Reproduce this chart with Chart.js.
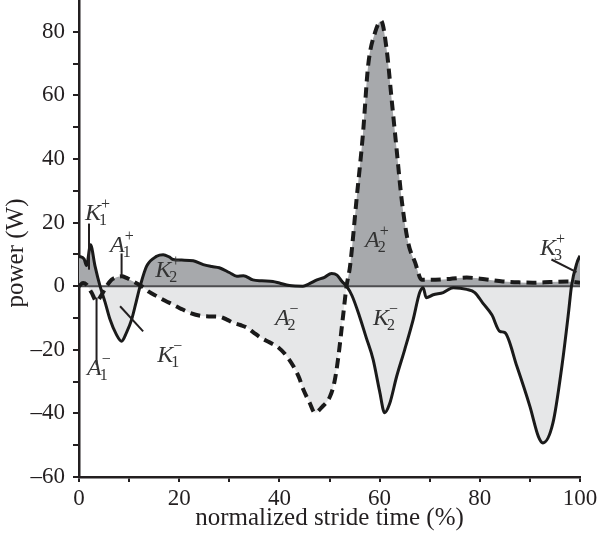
<!DOCTYPE html>
<html>
<head>
<meta charset="utf-8">
<script src="https://cdn.jsdelivr.net/npm/chart.js@4"></script>
<style>
body { margin: 0; background: #fff; }
</style>
</head>
<body>
<canvas id="chart" width="601" height="536"></canvas>
<script>
// knee power (solid line)
const kneeX = [0, 1.0, 1.5, 2.3, 3.2, 4.2, 5.2, 6.2, 7.4, 8.5, 9.5, 10.5, 11.4, 12.2, 13.5, 15.5, 16.8, 18.0, 18.8, 20.5,
  22.8, 24.8, 26.5, 28.0, 30.0, 31.5, 32.8, 34.7, 36.5, 38.7, 40.0, 42.0, 44.7, 46.0, 47.5, 49.0, 50.4, 51.5, 52.5, 53.4,
  54.5, 56.0, 57.3, 58.7, 60.0, 61.0, 62.0, 63.4, 65.0, 66.7, 68.0, 68.7, 69.3, 70.7, 72.7, 74.7, 77.4, 79.0, 80.6, 82.4,
  84.0, 85.0, 87.4, 90.0, 91.7, 92.6, 94.6, 96.4, 97.7, 98.3, 99.4, 100];
const kneePower = [9.4, 8.6, 6.5, 13, 6.3, 0, -5, -10.5, -15, -17.3, -14.5, -10.5, -5, 0, 6.3, 9.4, 9.9, 9.2, 8.4, 8.2,
  8.0, 6.8, 6.2, 5.8, 4.3, 3.1, 3.3, 2.0, 1.7, 1.5, 1.0, 0.2, 0, 0.8, 2.0, 2.8, 4.0, 3.5, 1.5, 0,
  -3, -9.5, -16, -23, -33, -39.8, -37, -28.4, -20, -10.5, -2, -0.5, -3.6, -2.7, -2, -0.5, -1, -2, -5.3, -9,
  -14.2, -14.6, -25.2, -37.8, -47.3, -49.3, -43, -25, -8.4, 0, 7.4, 9.6];

// ankle power (dashed line)
const ankleX = [0, 0.8, 1.5, 2.5, 3.5, 4.5, 5.5, 6.5, 7.5, 8.5, 9.5, 10.8, 12.5, 14.0, 15.6, 17.2, 18.8, 20.5, 22.2, 24.2,
  26.0, 28.1, 29.5, 30.8, 32.2, 33.5, 34.8, 36.1, 37.8, 39.5, 41.2, 42.8, 44.0, 44.8, 46.0, 47.1, 48.5, 50.1, 51.0, 51.7,
  52.7, 53.4, 54.1, 55.4, 56.7, 57.7, 59.1, 60.3, 61.4, 62.4, 63.4, 64.4, 65.7, 67.1, 68.4, 70.0, 74.0, 77.4, 81.0, 84.6,
  88.0, 90.6, 94.0, 97.4, 100];
const anklePower = [0, 1, 0.5, -2, -4.7, -2.7, 0, 2, 2.8, 3.1, 2.6, 1.5, 0, -1.8, -3.2, -4.6, -5.8, -7.2, -8.4, -9.3,
  -9.5, -9.6, -10.5, -11.5, -12.2, -13, -14.5, -16, -17.5, -18.9, -21.5, -25.2, -29, -32.6, -36.5, -39.8, -38, -34.7, -30, -23,
  -9.5, 0, 6.3, 27.3, 48.3, 69.2, 79.8, 83.4, 74.5, 58.8, 43, 27.3, 13.7, 7.4, 2, 2, 2.3, 2.7, 2.2, 1.5,
  1.2, 1.1, 1.3, 1.5, 1.1];

const xLabelTicks = [0, 20, 40, 60, 80, 100];
const yLabelTicks = [-60, -40, -20, 0, 20, 40, 60, 80];

// phase names: letter, superscript, subscript
const phaseLetter = ['K', 'A', 'K', 'A', 'K', 'A', 'A', 'K', 'K'];
const phaseSup = ['+', '+', '+', '\u2212', '\u2212', '\u2212', '+', '\u2212', '+'];
const phaseSub = ['1', '1', '2', '1', '1', '2', '2', '2', '3'];

// where each phase name sits, in axis units (left edge, baseline)
const phasePos = [[1.2, 20.7], [6.2, 10.6], [15.2, 3.0], [1.6, -27.8], [15.6, -23.7],
  [39.1, -12.1], [57.1, 12.2], [58.7, -12.1], [92.0, 9.9]];
// pointer lines, axis units
const pointers = [[2.0, 19.7, 2.0, 5.2], [8.5, 10.3, 8.5, 3.0], [3.5, -3.6, 3.5, -24.7],
  [8.2, -6.3, 12.8, -14.2], [94.3, 8.4, 99.3, 4.4]];

const INK = '#231f20';
const DARK_FILL = '#a7a9ac';
const LIGHT_FILL = '#e6e7e8';

function serif(size, italic) {
  return (italic ? 'italic ' : '') + size + 'px "Liberation Serif", "DejaVu Serif", serif';
}

const phasePlugin = {
  id: 'phases',
  beforeDatasetsDraw(chart) {
    const {ctx, chartArea, scales} = chart;
    const y0 = scales.y.getPixelForValue(0);
    ctx.save();
    ctx.strokeStyle = '#4d4d4f';
    ctx.lineWidth = 2;
    ctx.beginPath();
    ctx.moveTo(chartArea.left, y0);
    ctx.lineTo(chartArea.right, y0);
    ctx.stroke();
    ctx.restore();
  },
  afterDatasetsDraw(chart) {
    const {ctx, scales} = chart;
    const xs = scales.x, ys = scales.y;
    ctx.save();
    ctx.strokeStyle = INK;
    ctx.lineWidth = 2;
    pointers.forEach(function (p) {
      ctx.beginPath();
      ctx.moveTo(xs.getPixelForValue(p[0]), ys.getPixelForValue(p[1]));
      ctx.lineTo(xs.getPixelForValue(p[2]), ys.getPixelForValue(p[3]));
      ctx.stroke();
    });
    ctx.fillStyle = '#333333';
    ctx.textBaseline = 'alphabetic';
    ctx.textAlign = 'left';
    for (let i = 0; i < phaseLetter.length; i++) {
      const px = xs.getPixelForValue(phasePos[i][0]);
      const py = ys.getPixelForValue(phasePos[i][1]);
      ctx.font = serif(24, true);
      ctx.fillText(phaseLetter[i], px, py);
      const w = ctx.measureText(phaseLetter[i]).width;
      ctx.font = serif(16, false);
      ctx.fillText(phaseSup[i], px + w, py - 11);
      ctx.fillText(phaseSub[i], px + w - 2, py + 5);
    }
    ctx.restore();

    // y axis title
    ctx.save();
    ctx.fillStyle = INK;
    ctx.font = serif(25, false);
    ctx.textAlign = 'center';
    ctx.textBaseline = 'middle';
    ctx.translate(16, 253);
    ctx.rotate(-Math.PI / 2);
    ctx.fillText('power (W)', 0, 0);
    ctx.restore();
  }
};

new Chart(document.getElementById('chart').getContext('2d'), {
  type: 'line',
  data: {
    datasets: [
      {
        label: 'knee',
        data: kneeX.map((v, i) => ({x: v, y: kneePower[i]})),
        borderColor: '#1a1a1a',
        borderWidth: 3,
        pointRadius: 0,
        cubicInterpolationMode: 'monotone',
        fill: {target: 'origin', above: DARK_FILL, below: LIGHT_FILL}
      },
      {
        label: 'ankle',
        data: ankleX.map((v, i) => ({x: v, y: anklePower[i]})),
        borderColor: '#1a1a1a',
        borderWidth: 4,
        borderDash: [10, 6],
        pointRadius: 0,
        cubicInterpolationMode: 'monotone',
        fill: {target: 'origin', above: DARK_FILL, below: LIGHT_FILL}
      }
    ]
  },
  options: {
    responsive: false,
    animation: false,
    layout: {padding: {left: 0, right: 21, top: 0, bottom: 0}},
    plugins: {
      legend: {display: false},
      tooltip: {enabled: false},
      filler: {drawTime: 'beforeDatasetsDraw'}
    },
    scales: {
      x: {
        type: 'linear',
        min: 0,
        max: 100,
        border: {display: true, color: INK, width: 2.5},
        grid: {display: true, drawOnChartArea: false, drawTicks: true, tickLength: 5, color: INK, lineWidth: 2},
        ticks: {
          stepSize: 10,
          autoSkip: false,
          maxRotation: 0,
          padding: 3,
          color: INK,
          font: {family: '"Liberation Serif", serif', size: 23},
          callback: v => xLabelTicks.includes(v) ? String(v) : ''
        },
        title: {
          display: true,
          text: 'normalized stride time (%)',
          color: INK,
          font: {family: '"Liberation Serif", serif', size: 25},
          padding: {top: 0, bottom: 3}
        },
        afterFit: s => { s.height = 59; }
      },
      y: {
        type: 'linear',
        min: -60,
        max: 90,
        border: {display: true, color: INK, width: 2.5},
        grid: {display: true, drawOnChartArea: false, drawTicks: true, tickLength: 6, color: INK, lineWidth: 2},
        ticks: {
          stepSize: 10,
          autoSkip: false,
          padding: 8,
          color: INK,
          font: {family: '"Liberation Serif", serif', size: 23},
          callback: v => v === 90 ? null : (yLabelTicks.includes(v) ? String(v).replace('-', '\u2013') : '')
        },
        afterFit: s => { s.width = 79; s.paddingTop = 0; s.paddingBottom = 0; }
      }
    }
  },
  plugins: [phasePlugin]
});
</script>
</body>
</html>
